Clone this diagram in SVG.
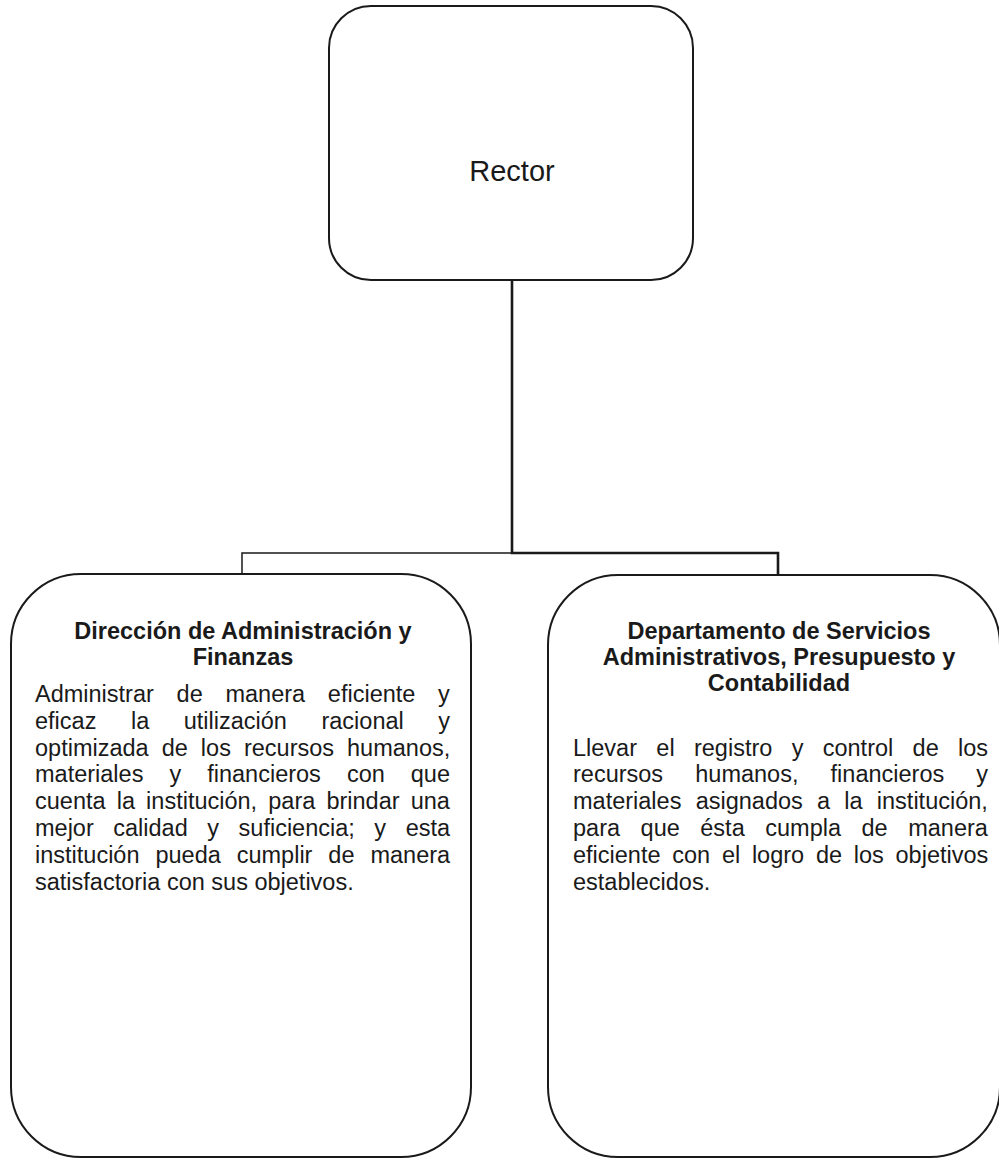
<svg xmlns="http://www.w3.org/2000/svg" width="999" height="1160" viewBox="0 0 999 1160">
<style>
.box{fill:#fff;stroke:#1a1a1a;stroke-width:2}
.t{font-family:"Liberation Sans",Arial,sans-serif;fill:#1a1a1a}
.title{font-size:23.5px;font-weight:bold;text-anchor:middle}
.body{font-size:23.5px}
</style>
<rect width="999" height="1160" fill="#fff"/>
<g id="connectors" fill="none" stroke="#1a1a1a">
<path d="M512 280 V553 H778 V575" stroke-width="2.6"/>
<path d="M512 553 H242 V574" stroke-width="1.5"/>
</g>
<g id="rector">
<rect class="box" x="329" y="6" width="364" height="274" rx="42"/>
<text class="t" x="512" y="181" font-size="29" text-anchor="middle">Rector</text>
</g>
<g id="direccion">
<rect class="box" x="11" y="574" width="460" height="583" rx="70"/>
<text class="t title" x="243" y="639">Dirección de Administración y</text>
<text class="t title" x="243" y="665">Finanzas</text>
<text class="t body" x="35" y="702" word-spacing="16.2">Administrar de manera eficiente y</text>
<text class="t body" x="35" y="728.8" word-spacing="28">eficaz la utilización racional y</text>
<text class="t body" x="35" y="755.6" word-spacing="6.5">optimizada de los recursos humanos,</text>
<text class="t body" x="35" y="782.4" word-spacing="19.5">materiales y financieros con que</text>
<text class="t body" x="35" y="809.2" word-spacing="4.6">cuenta la institución, para brindar una</text>
<text class="t body" x="35" y="836" word-spacing="13">mejor calidad y suficiencia; y esta</text>
<text class="t body" x="35" y="862.8" word-spacing="9.4">institución pueda cumplir de manera</text>
<text class="t body" x="35" y="889.6">satisfactoria con sus objetivos.</text>
</g>
<g id="departamento">
<rect class="box" x="548" y="575" width="452" height="582" rx="70"/>
<text class="t title" x="779" y="639">Departamento de Servicios</text>
<text class="t title" x="779" y="665">Administrativos, Presupuesto y</text>
<text class="t title" x="779" y="691">Contabilidad</text>
<text class="t body" x="573" y="755.6" word-spacing="12.8">Llevar el registro y control de los</text>
<text class="t body" x="573" y="782.4" word-spacing="25.6">recursos humanos, financieros y</text>
<text class="t body" x="573" y="809.2" word-spacing="7.7">materiales asignados a la institución,</text>
<text class="t body" x="573" y="836" word-spacing="14">para que ésta cumpla de manera</text>
<text class="t body" x="573" y="862.8" word-spacing="5.2">eficiente con el logro de los objetivos</text>
<text class="t body" x="573" y="889.6">establecidos.</text>
</g>
</svg>
